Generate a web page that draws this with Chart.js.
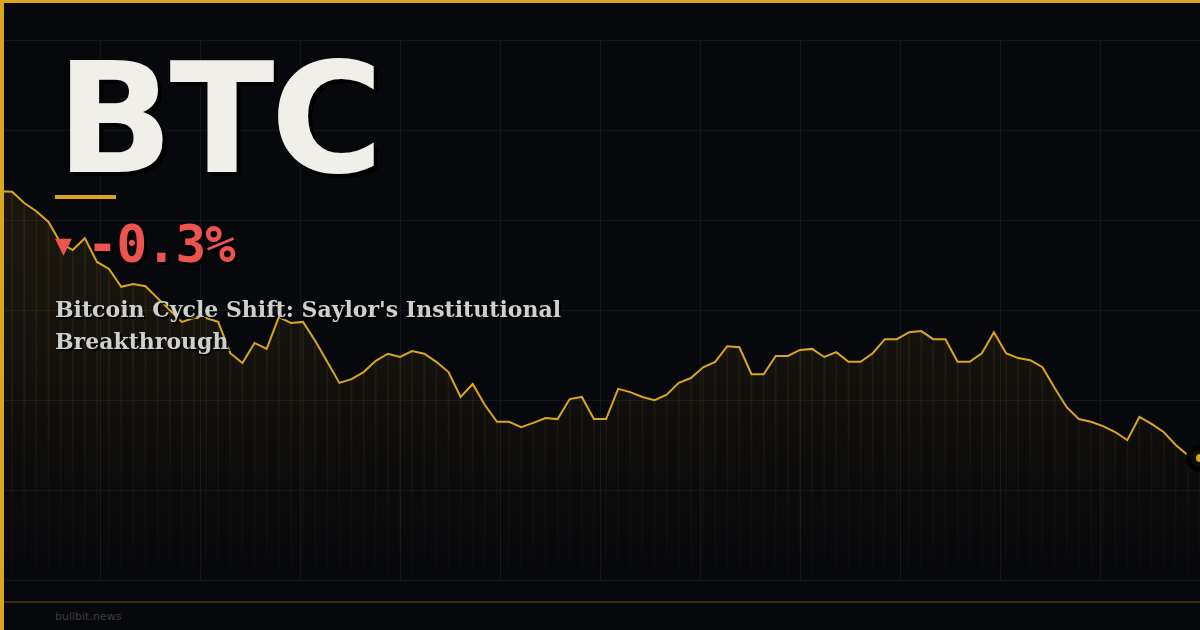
<!DOCTYPE html>
<html>
<head>
<meta charset="utf-8">
<script src="https://cdn.jsdelivr.net/npm/chart.js@4.4.1/dist/chart.umd.min.js"></script>
<style>
  html, body { margin:0; padding:0; }
  body { width:1200px; height:630px; background:#07080c; position:relative; overflow:hidden; }
  #grid { position:absolute; left:0; top:40px; width:1200px; height:541px;
    background-image:
      linear-gradient(to right, #13161b 1px, transparent 1px),
      linear-gradient(to bottom, #13161b 1px, transparent 1px);
    background-size:100px 90px; }
  #wrap { position:absolute; left:0; top:40px; width:1200px; height:540px; }
  #frameTop { position:absolute; left:0; top:0; width:1200px; height:3px; background:#daa520; }
  #frameLeft { position:absolute; left:0; top:0; width:4px; height:630px; background:#daa520; }
  #footLine { position:absolute; left:0; top:601px; width:1200px; height:2px; background:#3a2b0a; }
  .t { position:absolute; white-space:nowrap; }
  #ticker { left:56px; top:42px; font-family:"DejaVu Sans"; font-weight:bold; font-size:154px; line-height:154px;
    color:#f0efea; text-shadow:4px 4px 0 #000; letter-spacing:-4px; }
  #bar { position:absolute; left:55px; top:195px; width:61px; height:4px; background:#daa520; }
  #chg { left:55px; top:215px; font-family:"DejaVu Sans Mono"; font-weight:bold; font-size:51px; line-height:60px;
    color:#ef5350; text-shadow:3px 3px 0 #000; letter-spacing:-1.2px; }
  #chg .tri { font-family:"DejaVu Sans"; font-size:22px; vertical-align:top; position:relative; top:1px; margin-right:15px; text-shadow:none; letter-spacing:0; }
  #head { left:55px; top:293px; font-family:"DejaVu Serif"; font-weight:bold; font-size:22px; line-height:32px;
    color:#cfcfcb; text-shadow:2px 2px 0 #000; white-space:normal; width:560px; }
  #foot { left:55px; top:610px; font-family:"DejaVu Sans"; font-size:11px; color:#3c3c3c; }
</style>
</head>
<body>
<div id="grid"></div>
<div id="wrap"><canvas id="c" width="1200" height="540"></canvas></div>
<div id="footLine"></div>
<div class="t" id="ticker">BTC</div>
<div id="bar"></div>
<div class="t" id="chg"><span class="tri">▼</span>-0.3%</div>
<div class="t" id="head">Bitcoin Cycle Shift: Saylor's Institutional Breakthrough</div>
<div class="t" id="foot">bullbit.news</div>
<div id="frameTop"></div>
<div id="frameLeft"></div>
<script>
// Price index (0 = chart bottom, 100 = chart top)
const periods = Array.from({length: 100}, (_, i) => 'P' + (i + 1));
const priceIndex = [
  72.0, 71.9, 69.8, 68.3, 66.3, 62.4, 61.1, 63.3, 58.9, 57.6,
  54.3, 54.8, 54.4, 52.2, 50.0, 47.8, 48.5, 48.5, 47.8, 42.0,
  40.2, 43.9, 42.8, 48.7, 47.6, 47.8, 44.3, 40.4, 36.5, 37.2,
  38.5, 40.6, 41.9, 41.3, 42.4, 41.9, 40.4, 38.5, 33.9, 36.3,
  32.4, 29.3, 29.3, 28.3, 29.1, 30.0, 29.8, 33.5, 33.9, 29.8,
  29.8, 35.4, 34.8, 33.9, 33.3, 34.3, 36.5, 37.4, 39.4, 40.4,
  43.3, 43.1, 38.1, 38.1, 41.5, 41.5, 42.6, 42.8, 41.3, 42.2,
  40.4, 40.4, 42.0, 44.6, 44.6, 45.9, 46.1, 44.6, 44.6, 40.4,
  40.4, 42.0, 45.9, 42.0, 41.1, 40.7, 39.4, 35.6, 32.0, 29.8,
  29.3, 28.5, 27.4, 25.9, 30.2, 28.9, 27.4, 25.0, 23.1, 22.6
];
const scaleMin = 0;
const scaleMax = 100;

const GOLD = '#daa520';
const last = priceIndex.length - 1;

new Chart(document.getElementById('c'), {
  data: {
    labels: periods,
    datasets: [
      {
        type: 'line',
        data: priceIndex,
        borderColor: GOLD,
        borderWidth: 2,
        tension: 0,
        fill: 'start',
        backgroundColor: (ctx) => {
          const ca = ctx.chart.chartArea;
          if (!ca) return 'rgba(218,165,32,0.08)';
          const g = ctx.chart.ctx.createLinearGradient(0, ca.top, 0, ca.bottom);
          g.addColorStop(0, 'rgba(218,165,32,0.12)');
          g.addColorStop(0.55, 'rgba(218,165,32,0.07)');
          g.addColorStop(1, 'rgba(218,165,32,0.0)');
          return g;
        },
        pointRadius: (ctx) => ctx.dataIndex === last ? 9 : 0,
        pointBackgroundColor: GOLD,
        pointBorderColor: 'rgba(0,0,0,0.92)',
        pointBorderWidth: 10,
        clip: false,
        order: 1
      },
      {
        type: 'bar',
        data: priceIndex,
        backgroundColor: (ctx) => {
          const ca = ctx.chart.chartArea;
          if (!ca) return 'rgba(218,165,32,0.08)';
          const g = ctx.chart.ctx.createLinearGradient(0, ca.top, 0, ca.bottom);
          g.addColorStop(0, 'rgba(218,165,32,0.12)');
          g.addColorStop(0.6, 'rgba(218,165,32,0.07)');
          g.addColorStop(1, 'rgba(218,165,32,0.01)');
          return g;
        },
        barThickness: 1,
        order: 2
      }
    ]
  },
  options: {
    animation: false,
    responsive: false,
    maintainAspectRatio: false,
    layout: { padding: 0, autoPadding: false },
    plugins: { legend: { display: false }, tooltip: { enabled: false } },
    scales: {
      x: { type: 'category', offset: false, display: false, grid: { display: false } },
      y: { display: false, min: scaleMin, max: scaleMax, grid: { display: false } }
    }
  }
});
</script>
</body>
</html>
